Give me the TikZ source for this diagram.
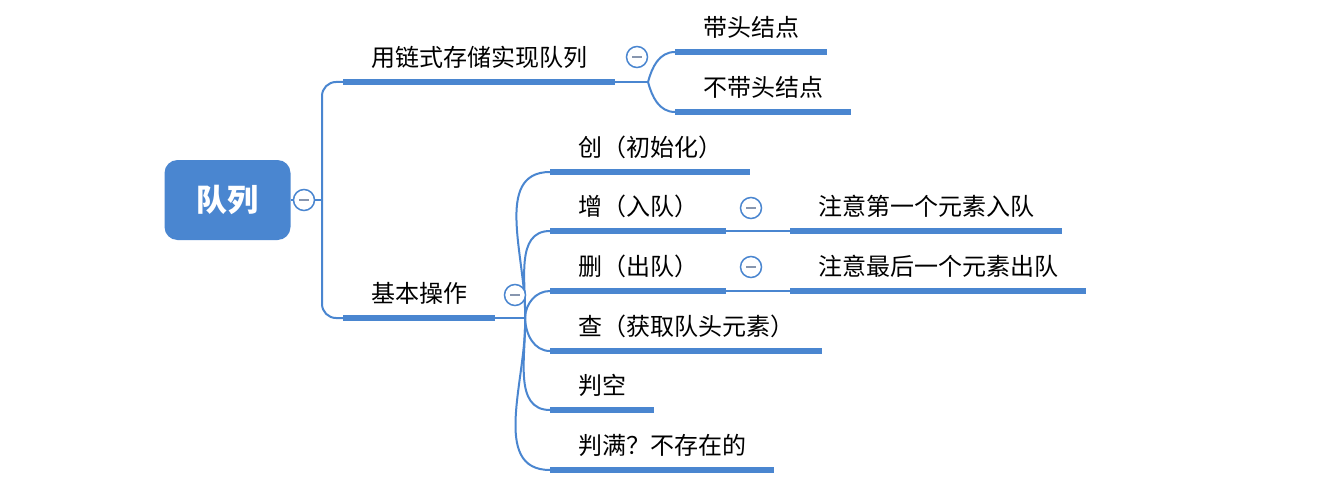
\documentclass[tikz,border=0pt]{standalone}
\usepackage{fontspec}
\newfontfamily\cjk{Noto Sans CJK SC}
\usetikzlibrary{calc,positioning}
\definecolor{mapblue}{RGB}{74,134,208}
\definecolor{mapgray}{RGB}{135,150,175}

\begin{document}
\begin{tikzpicture}[x=1pt,y=-1pt,
	topic/.style={anchor=south west,inner xsep=28pt,inner ysep=0pt,text height=19pt,text depth=15pt,font=\cjk\fontsize{24}{24}\selectfont},
	bar/.style={draw=mapblue,line width=5.5pt},
	link/.style={draw=mapblue,line width=2pt},
	fold/.style={circle,draw=mapblue,fill=white,line width=1.5pt,minimum size=21pt,inner sep=0pt},
	rootbox/.style={fill=mapblue,rounded corners=13pt,minimum width=126pt,minimum height=80pt,text=white,font=\cjk\bfseries\fontsize{31}{31}\selectfont}]
				\useasboundingbox[fill=white] (0,0) rectangle (1337,476);
				%\draw[color=gray,step=10pt,help lines,opacity=0.3] (0,0) grid (1337,476); %help grids
				\node[rootbox] (root) at (227.5,200) {队列};
				\node[topic] (chain) at (343,82) {用链式存储实现队列};
				\node[topic] (withhead) at (675,52) {带头结点};
				\node[topic] (nohead) at (675,112) {不带头结点};
				\node[topic] (basic) at (343,318) {基本操作};
				\node[topic] (init) at (550,172) {创（初始化）};
				\node[topic] (enq) at (550,231) {增（入队）};
				\node[topic] (deq) at (550,291) {删（出队）};
				\node[topic] (peek) at (550,351) {查（获取队头元素）};
				\node[topic] (empty) at (550,410) {判空};
				\node[topic] (full) at (550,470) {判满？不存在的};
				\node[topic] (enqnote) at (790,231) {注意第一个元素入队};
				\node[topic] (deqnote) at (790,291) {注意最后一个元素出队};
				\coordinate (hub) at (322,200);
				\coordinate (chainhub) at (648,82);
				\coordinate (basichub) at (525,318);
				% connectors
				\draw[link] (root.east) -- (hub);
				\draw[link,rounded corners=14pt] (hub) |- (chain.south west);
				\draw[link,rounded corners=14pt] (hub) |- (basic.south west);
				\draw[link] (chain.south east) -- (chainhub);
				\draw[link] (chainhub) to[out=75,in=180] (withhead.south west);
				\draw[link] (chainhub) to[out=-75,in=180] (nohead.south west);
				\draw[link] (basic.south east) -- (basichub);
				\foreach \t in {init,enq,deq}
					\draw[link] (basichub) to[out=88,in=180] (\t.south west);
				\foreach \t in {peek,empty,full}
					\draw[link] (basichub) to[out=-88,in=180] (\t.south west);
				\draw[link] (enq.south east) -- (enqnote.south west);
				\draw[link] (deq.south east) -- (deqnote.south west);
				% underlines
				\foreach \t in {chain,withhead,nohead,basic,init,enq,deq,peek,empty,full,enqnote,deqnote}
					\draw[bar] (\t.south west) -- (\t.south east);
				% fold buttons
				\node[fold] (rootfold) at (304,200) {};
				\node[fold] (chainfold) at (637,57) {};
				\node[fold] (basicfold) at (515,295) {};
				\node[fold] (enqfold) at (751,208) {};
				\node[fold] (deqfold) at (751,267) {};
				\foreach \f in {rootfold,chainfold,basicfold,enqfold,deqfold}
					\draw[mapgray,line width=1.3pt] ([xshift=-5pt]\f.center) -- ([xshift=5pt]\f.center);
\end{tikzpicture}
\end{document}
